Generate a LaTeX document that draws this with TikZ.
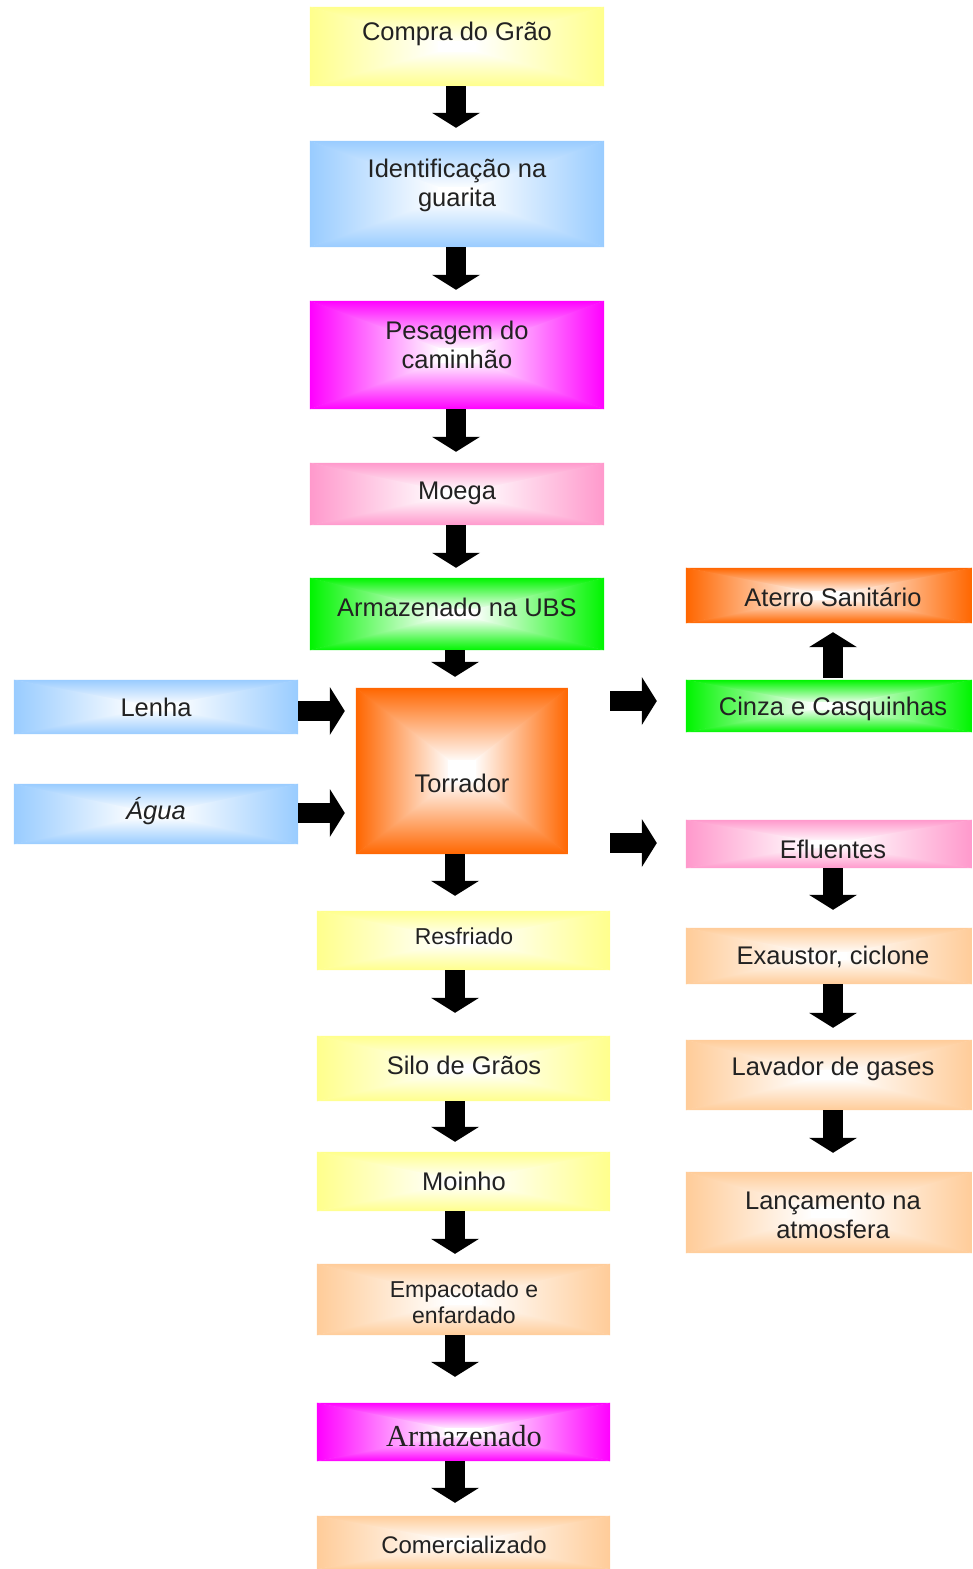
\documentclass[tikz,border=0pt]{standalone}
\usepackage{fontspec}
\setmainfont{Liberation Sans}
\newfontfamily\serifface{Liberation Serif}
\usetikzlibrary{arrows.meta,calc}

\definecolor{cyel}{HTML}{FFFF8C}
\definecolor{cblue}{HTML}{99CCFF}
\definecolor{cmag}{HTML}{FF00FF}
\definecolor{cpink}{HTML}{FF99CC}
\definecolor{cgreen}{HTML}{00F500}
\definecolor{corange}{HTML}{FF6600}
\definecolor{cpeach}{HTML}{FFCC99}
\definecolor{txt}{HTML}{222222}

\tikzset{
  gbox/.style={draw=none, fill=none, inner sep=0pt},
  lbl/.style={inner sep=0pt, align=center, text=txt, font=\fontsize{25.5}{29}\selectfont},
  lblsm/.style={lbl, font=\fontsize{23}{26}\selectfont},
  bigarrow/.style={line width=20pt, draw=black, -{Triangle[width=48pt,length=15pt,line width=0pt]}},
}

% rectangular "from centre" gradient: colour at the edges, white in the middle
\newcommand{\gradbox}[2]{%
  \coordinate (#1-iNW) at ($(#1.center)!0.12!(#1.north west)$);
  \coordinate (#1-iNE) at ($(#1.center)!0.12!(#1.north east)$);
  \coordinate (#1-iSW) at ($(#1.center)!0.12!(#1.south west)$);
  \coordinate (#1-iSE) at ($(#1.center)!0.12!(#1.south east)$);
  \fill[#2!60!white] (#1.north west) rectangle (#1.south east);
  \shade[top color=#2, bottom color=white] (#1.north west) -- (#1.north east) -- ([yshift=-1.5pt]#1-iNE) -- ([yshift=-1.5pt]#1-iNW) -- cycle;
  \shade[bottom color=#2, top color=white] (#1.south west) -- (#1.south east) -- ([yshift=1.5pt]#1-iSE) -- ([yshift=1.5pt]#1-iSW) -- cycle;
  \shade[left color=#2, right color=white] (#1.north west) -- ([xshift=1.5pt]#1-iNW) -- ([xshift=1.5pt]#1-iSW) -- (#1.south west) -- cycle;
  \shade[right color=#2, left color=white] (#1.north east) -- ([xshift=-1.5pt]#1-iNE) -- ([xshift=-1.5pt]#1-iSE) -- (#1.south east) -- cycle;
  \fill[white] ([xshift=-1pt,yshift=1pt]#1-iNW) rectangle ([xshift=1pt,yshift=-1pt]#1-iSE);
}

\begin{document}
\begin{tikzpicture}[x=1pt,y=-1pt]
\useasboundingbox (0,0) rectangle (973,1569);

% main column
\node[gbox, minimum width=294pt, minimum height=79pt] (compra) at (457,46.5) {};
\node[gbox, minimum width=294pt, minimum height=106pt] (ident) at (457,194) {};
\node[gbox, minimum width=294pt, minimum height=108pt] (pes) at (457,355) {};
\node[gbox, minimum width=294pt, minimum height=62pt] (moega) at (457,494) {};
\node[gbox, minimum width=294pt, minimum height=72pt] (ubs) at (457,614) {};
\node[gbox, minimum width=212pt, minimum height=166pt] (torr) at (462,771) {};
\node[gbox, minimum width=284pt, minimum height=54pt] (lenha) at (156,707) {};
\node[gbox, minimum width=284pt, minimum height=60pt] (agua) at (156,814) {};
% right column
\node[gbox, minimum width=286pt, minimum height=55pt] (aterro) at (829,595.5) {};
\node[gbox, minimum width=286pt, minimum height=52pt] (cinza) at (829,706) {};
\node[gbox, minimum width=286pt, minimum height=48pt] (eflu) at (829,844) {};
\node[gbox, minimum width=286pt, minimum height=56pt] (exaust) at (829,956) {};
\node[gbox, minimum width=286pt, minimum height=70pt] (lav) at (829,1075) {};
\node[gbox, minimum width=286pt, minimum height=81pt] (lanc) at (829,1212.5) {};
% lower column
\node[gbox, minimum width=293pt, minimum height=59pt] (resf) at (463.5,940.5) {};
\node[gbox, minimum width=293pt, minimum height=65pt] (silo) at (463.5,1068.5) {};
\node[gbox, minimum width=293pt, minimum height=59pt] (moinho) at (463.5,1181.5) {};
\node[gbox, minimum width=293pt, minimum height=71pt] (empac) at (463.5,1299.5) {};
\node[gbox, minimum width=293pt, minimum height=58pt] (armaz) at (463.5,1432) {};
\node[gbox, minimum width=293pt, minimum height=53pt] (comerc) at (463.5,1542.5) {};

\gradbox{compra}{cyel}
\gradbox{ident}{cblue}
\gradbox{pes}{cmag}
\gradbox{moega}{cpink}
\gradbox{ubs}{cgreen}
\gradbox{torr}{corange}
\gradbox{lenha}{cblue}
\gradbox{agua}{cblue}
\gradbox{aterro}{corange}
\gradbox{cinza}{cgreen}
\gradbox{eflu}{cpink}
\gradbox{exaust}{cpeach}
\gradbox{lav}{cpeach}
\gradbox{lanc}{cpeach}
\gradbox{resf}{cyel}
\gradbox{silo}{cyel}
\gradbox{moinho}{cyel}
\gradbox{empac}{cpeach}
\gradbox{armaz}{cmag}
\gradbox{comerc}{cpeach}

% labels
\node[lbl] (tcompra) at (457,34) {Compra do Grão};
\node[lbl] (tident) at (457,185) {Identificação na\\guarita};
\node[lbl] (tpes) at (457,345) {Pesagem do\\caminhão};
\node[lbl] (tmoega) at (457,493) {Moega};
\node[lbl] (tubs) at (457,607) {Armazenado na UBS};
\node[lbl] (ttorr) at (462,783) {Torrador};
\node[lbl] (tlenha) at (156,707) {Lenha};
\node[lbl] (tagua) at (156,811) {\itshape Água};
\node[lbl] (taterro) at (833,597) {Aterro Sanitário};
\node[lbl] (tcinza) at (833,709) {Cinza e Casquinhas};
\node[lbl] (teflu) at (833,849) {Efluentes};
\node[lbl] (texaust) at (833,957) {Exaustor, ciclone};
\node[lbl] (tlav) at (833,1069) {Lavador de gases};
\node[lbl] (tlanc) at (833,1215) {Lançamento na\\atmosfera};
\node[lblsm] (tresf) at (464,936) {Resfriado};
\node[lbl] (tsilo) at (464,1065) {Silo de Grãos};
\node[lbl] (tmoinho) at (464,1181) {Moinho};
\node[lblsm] (tempac) at (464,1302) {Empacotado e\\enfardado};
\node[lbl, font=\serifface\fontsize{30.5}{34}\selectfont] (tarmaz) at (464,1436) {Armazenado};
\node[lbl, font=\fontsize{24}{28}\selectfont] (tcomerc) at (464,1545) {Comercializado};

% arrow guide coordinates
\coordinate (ax) at (456,0);
\coordinate (bx) at (455,0);
\coordinate (rx) at (833,0);
\coordinate (ly) at (0,711);
\coordinate (ay) at (0,813);
\coordinate (cy) at (0,701);
\coordinate (ey) at (0,843);

% main flow arrows
\draw[bigarrow, shorten >=13pt] (compra.south -| ax) -- (ident.north -| ax);
\draw[bigarrow, shorten >=11pt] (ident.south -| ax) -- (pes.north -| ax);
\draw[bigarrow, shorten >=11pt] (pes.south -| ax) -- (moega.north -| ax);
\draw[bigarrow, shorten >=10pt] (moega.south -| ax) -- (ubs.north -| ax);
\draw[bigarrow, shorten >=11pt] (ubs.south -| bx) -- (torr.north -| bx);
\draw[bigarrow, shorten >=15pt] (torr.south -| bx) -- (resf.north -| bx);
\draw[bigarrow, shorten >=23pt] (resf.south -| bx) -- (silo.north -| bx);
\draw[bigarrow, shorten >=10pt] (silo.south -| bx) -- (moinho.north -| bx);
\draw[bigarrow, shorten >=10pt] (moinho.south -| bx) -- (empac.north -| bx);
\draw[bigarrow, shorten >=26pt] (empac.south -| bx) -- (armaz.north -| bx);
\draw[bigarrow, shorten >=13pt] (armaz.south -| bx) -- (comerc.north -| bx);

% inputs
\draw[bigarrow, shorten >=11pt] (lenha.east |- ly) -- (torr.west |- ly);
\draw[bigarrow, shorten >=11pt] (agua.east |- ay) -- (torr.west |- ay);

% outputs
\draw[bigarrow, shorten <=42pt, shorten >=29pt] (torr.east |- cy) -- (cinza.west |- cy);
\draw[bigarrow, shorten <=42pt, shorten >=29pt] (torr.east |- ey) -- (eflu.west |- ey);
\draw[bigarrow, shorten <=2pt, shorten >=9pt] (cinza.north -| rx) -- (aterro.south -| rx);
\draw[bigarrow, shorten >=18pt] (eflu.south -| rx) -- (exaust.north -| rx);
\draw[bigarrow, shorten >=12pt] (exaust.south -| rx) -- (lav.north -| rx);
\draw[bigarrow, shorten >=19pt] (lav.south -| rx) -- (lanc.north -| rx);
\end{tikzpicture}
\end{document}
